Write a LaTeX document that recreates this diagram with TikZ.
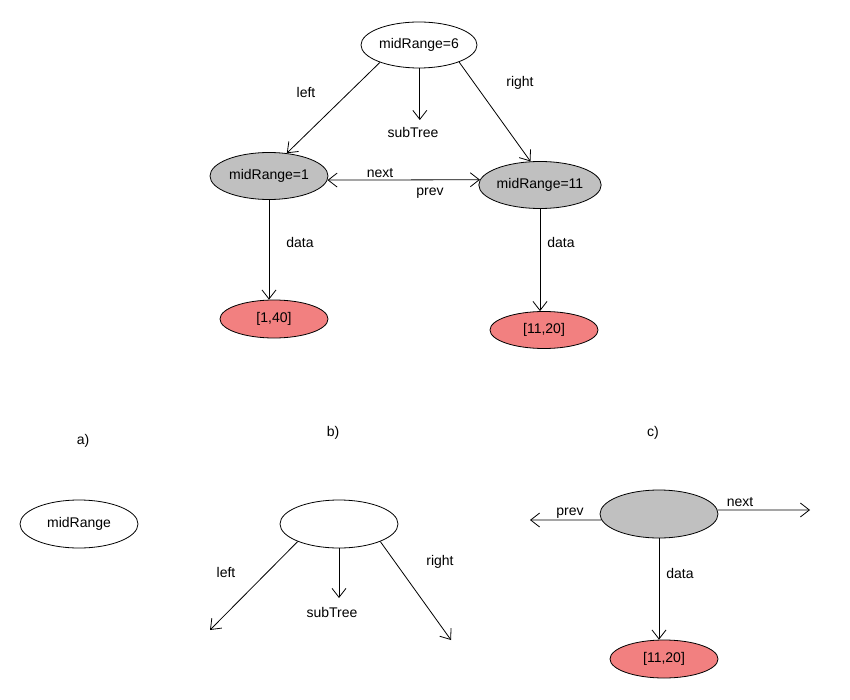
\documentclass[tikz,border=0pt]{standalone}
\usepackage{fontspec}
\setmainfont{Liberation Sans}
\usetikzlibrary{shapes.geometric,arrows.meta}
\definecolor{nodegrey}{HTML}{C0C0C0}
\definecolor{datapink}{HTML}{F28080}
\tikzset{
  ov/.style={ellipse,draw=black,line width=0.8pt,inner sep=0pt,minimum width=118pt,minimum height=47pt,font=\fontsize{14}{16}\selectfont},
  whiteov/.style={ov,fill=white},
  greyov/.style={ov,fill=nodegrey},
  dataov/.style={ov,fill=datapink,minimum width=108pt,minimum height=38pt},
  lbl/.style={inner sep=0pt,font=\fontsize{14}{16}\selectfont},
  conn/.style={line width=0.8pt,-{Straight Barb[length=9pt,width=14pt,line width=0.8pt]}},
  dconn/.style={line width=0.8pt,{Straight Barb[length=9pt,width=14pt,line width=0.8pt]}-{Straight Barb[length=9pt,width=14pt,line width=0.8pt]}}
}
\begin{document}
\begin{tikzpicture}[x=1pt,y=-1pt]
\useasboundingbox[fill=white] (0,0) rectangle (850,700);
% top tree
\node[whiteov,minimum width=116pt,minimum height=46pt] (top) at (419,45) {midRange=6};
\node[greyov] (m1) at (269,176) {midRange=1};
\node[greyov,minimum width=119pt] (m11) at (540,185) {midRange=11};
\node[dataov] (d1) at (274,319) {[1,40]};
\node[dataov,minimum height=37pt] (d11) at (544,330) {[11,20]};
\coordinate (stend) at (421,120);
\draw[conn] (top.204) -- (m1.52);
\draw[conn] (top.337) -- (m11.112);
\draw[conn] (top.272) -- (top.272 |- stend);
\draw[dconn] (m1.-4) -- (m11.175);
\draw[conn] (m1.south) -- (m1.south |- d1.north);
\draw[conn] (m11.south) -- (m11.south |- d11.north);
\node[lbl] (lleft) at (306,92) {left};
\node[lbl] (lsub) at (413,132) {subTree};
\node[lbl] (lright) at (520,83) {right};
\node[lbl] (lnext) at (380,173) {next};
\node[lbl] (lprev) at (430,193) {prev};
\node[lbl] (ldata1) at (300,242) {data};
\node[lbl] (ldata2) at (561,242) {data};
% a)
\node[lbl] (la) at (83,441) {a)};
\node[whiteov,minimum height=48pt] (am) at (79,524) {midRange};
% b)
\node[lbl] (lb) at (333,433) {b)};
\node[whiteov,minimum height=48pt] (be) at (339,524) {};
\coordinate (bl) at (210,630);
\coordinate (br) at (451,640);
\coordinate (bs) at (340,598);
\draw[conn] (be.203.5) -- (bl);
\draw[conn] (be.337.5) -- (br);
\draw[conn] (be.south) -- (be.south |- bs);
\node[lbl] (bleft) at (226,572) {left};
\node[lbl] (bsub) at (332,612) {subTree};
\node[lbl] (bright) at (440,562) {right};
% c)
\node[lbl] (lc) at (653,433) {c)};
\node[greyov,minimum height=48pt] (cg) at (659,514) {};
\node[dataov] (cd) at (664,659) {[11,20]};
\coordinate (cp) at (530,520);
\coordinate (cn) at (810,510);
\draw[conn] (cg.186) -- (cp);
\draw[conn] (cg.4) -- (cn);
\draw[conn] (cg.south) -- (cg.south |- cd.north);
\node[lbl] (cprev) at (570,513) {prev};
\node[lbl] (cnext) at (740,502) {next};
\node[lbl] (cdata) at (680,573) {data};
\end{tikzpicture}
\end{document}
